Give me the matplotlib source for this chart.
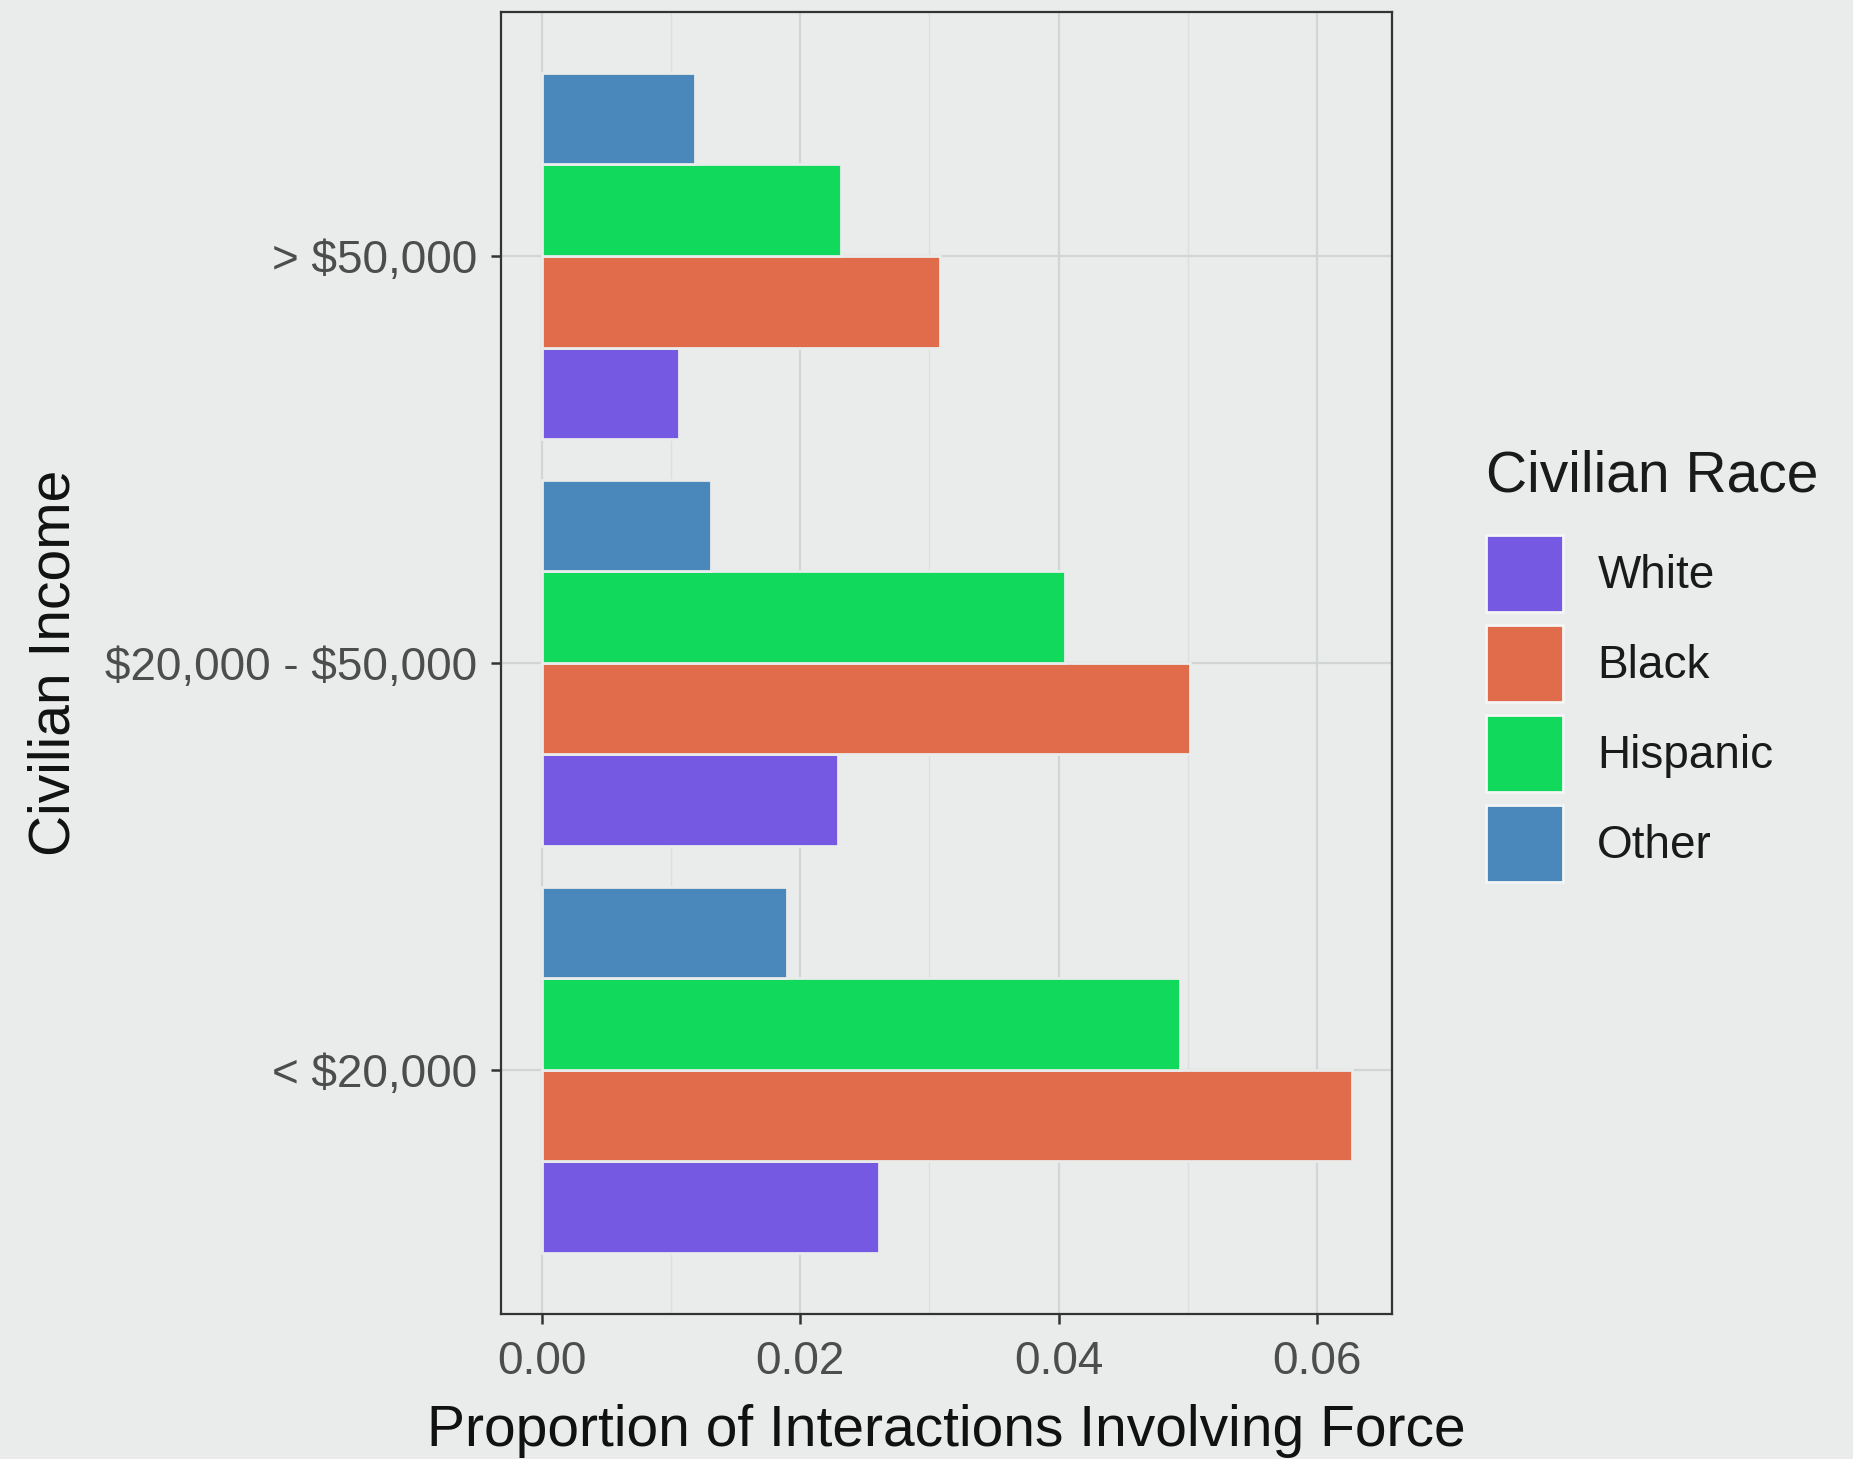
import matplotlib
matplotlib.use("Agg")
import matplotlib.pyplot as plt
import matplotlib.patches as mpatches
import numpy as np

plt.rcParams['font.family'] = ['Liberation Sans', 'DejaVu Sans']

incomes = ["< \\$20,000", "\\$20,000 - \\$50,000", "> \\$50,000"]
races = ["White", "Black", "Hispanic", "Other"]
colors = ["#7659e3", "#e06c4c", "#10d95b", "#4a88bb"]

white = [0.0261, 0.0229, 0.0106]
black = [0.0627, 0.0502, 0.0308]
hispanic = [0.0494, 0.0405, 0.0232]
other = [0.0190, 0.0131, 0.0119]

values = [white, black, hispanic, other]

bg = "#e9eceb"

fig = plt.figure(figsize=(18.53, 14.59), dpi=100, facecolor=bg)
ax = fig.add_axes([0.2704, 0.0994, 0.4808, 0.8925], facecolor=bg)

y = np.arange(len(incomes)) + 1
bar_h = 0.225
for i, (race, vals) in enumerate(zip(races, values)):
    offset = (i - 1.5) * bar_h
    ax.barh(y + offset, vals, height=bar_h, color=colors[i], edgecolor=bg,
            linewidth=2.0, zorder=3, label=race)

ax.set_xlim(-0.00314, 0.0658)
ax.set_ylim(0.4, 3.6)
ax.set_yticks(y)
ax.set_yticklabels(incomes)
ax.set_xticks([0, 0.02, 0.04, 0.06])
ax.set_xticklabels(["0.00", "0.02", "0.04", "0.06"])
ax.set_xticks([0.01, 0.03, 0.05], minor=True)

ax.grid(True, which="major", color="#d2d5d5", linewidth=1.6, zorder=0)
ax.grid(True, which="minor", axis="x", color="#dcdfdf", linewidth=1.0, zorder=0)
ax.set_axisbelow(True)

for s in ax.spines.values():
    s.set_color("#333333")
    s.set_linewidth(1.6)

ax.tick_params(axis="both", which="major", length=7, width=1.8, color="#333333",
               labelsize=33, labelcolor="#4d4d4d", pad=12)
ax.tick_params(axis="y", which="major", pad=10)
ax.tick_params(axis="x", which="minor", length=0)

ax.set_xlabel("Proportion of Interactions Involving Force", fontsize=41, color="#111111", labelpad=14)
ax.set_ylabel("Civilian Income", fontsize=41, color="#111111", labelpad=17)

handles = [mpatches.Patch(facecolor=c, edgecolor="#f4f6f6", linewidth=2) for c in colors]
leg = fig.legend(handles, races, loc="upper left", bbox_to_anchor=(0.772, 0.730),
                 frameon=False, fontsize=33, title="Civilian Race", title_fontsize=41,
                 handlelength=1.68, handleheight=2.21, labelspacing=0.28,
                 handletextpad=0.75, borderpad=1.21, borderaxespad=0)
leg._legend_box.align = "left"
leg._legend_box.sep = 23  # more room under the title
for t in leg.get_texts():
    t.set_color("#1a1a1a")
leg.get_title().set_color("#1a1a1a")

fig.savefig("out.png", dpi=100, facecolor=bg)
